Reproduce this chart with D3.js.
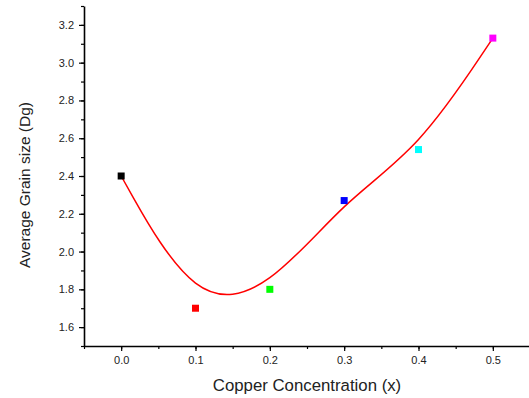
<!DOCTYPE html>
<html>
<head>
<meta charset="utf-8">
<script src="https://cdn.jsdelivr.net/npm/d3@7"></script>
<style>
  body { margin: 0; background: #fff; }
  svg { display: block; font-family: Arial, "Liberation Sans", sans-serif; }
</style>
</head>
<body>
<div id="chart"></div>
<script>
// copper concentration vs grain size
const concentration = [0.0, 0.1, 0.2, 0.3, 0.4, 0.5];
const grainSize = [2.40, 1.70, 1.80, 2.27, 2.54, 3.13];
const pointColors = ['#000000', '#ff0000', '#00ff00', '#0000ff', '#00ffff', '#ff00ff'];
const xTickValues = [0.0, 0.1, 0.2, 0.3, 0.4, 0.5];
const yTickValues = [1.6, 1.8, 2.0, 2.2, 2.4, 2.6, 2.8, 3.0, 3.2];

const width = 529, height = 398;
const margin = { top: 6, right: 0, bottom: 52, left: 84 };

const svg = d3.select('#chart').append('svg')
  .attr('width', width)
  .attr('height', height);

const x = d3.scaleLinear().domain([-0.05, 0.55]).range([margin.left, width - margin.right + 1]);
const y = d3.scaleLinear().domain([1.5, 3.3]).range([height - margin.bottom, margin.top]);

// minor ticks first
svg.append('g')
  .attr('transform', `translate(0,${height - margin.bottom})`)
  .call(d3.axisBottom(x).tickValues(d3.range(-0.05, 0.56, 0.05)).tickSize(3).tickFormat(''))
  .call(g => g.select('.domain').remove())
  .selectAll('line').attr('stroke-width', 1.2);

svg.append('g')
  .attr('transform', `translate(${margin.left},0)`)
  .call(d3.axisLeft(y).tickValues(d3.range(1.5, 3.31, 0.1)).tickSize(3).tickFormat(''))
  .call(g => g.select('.domain').remove())
  .selectAll('line').attr('stroke-width', 1.2);

// major axes
const xAxis = svg.append('g')
  .attr('transform', `translate(0,${height - margin.bottom})`)
  .call(d3.axisBottom(x).tickValues(xTickValues).tickSize(5).tickPadding(5).tickFormat(d3.format('.1f')).tickSizeOuter(0));

const yAxis = svg.append('g')
  .attr('transform', `translate(${margin.left},0)`)
  .call(d3.axisLeft(y).tickValues(yTickValues).tickSize(5).tickPadding(5).tickFormat(d3.format('.1f')).tickSizeOuter(0));

[xAxis, yAxis].forEach(a => {
  a.select('.domain').attr('stroke-width', 1.6);
  a.selectAll('.tick line').attr('stroke-width', 1.2);
  a.selectAll('text').attr('font-size', 11).attr('fill', '#222');
});

// smoothed curve
const line = d3.line()
  .x((d, i) => x(concentration[i]))
  .y(d => y(d))
  .curve(d3.curveBasis);

svg.append('path')
  .datum(grainSize)
  .attr('d', line)
  .attr('fill', 'none')
  .attr('stroke', '#ff0000')
  .attr('stroke-width', 1.5);

// markers
const size = 7;
svg.selectAll('rect.pt')
  .data(grainSize)
  .enter()
  .append('rect')
  .attr('class', 'pt')
  .attr('x', (d, i) => x(concentration[i]) - size / 2)
  .attr('y', d => y(d) - size / 2)
  .attr('width', size)
  .attr('height', size)
  .attr('fill', (d, i) => pointColors[i]);

// axis titles
svg.append('text')
  .attr('x', 307)
  .attr('y', 391)
  .attr('text-anchor', 'middle')
  .attr('font-size', 16.8)
  .attr('fill', '#222')
  .text('Copper Concentration (x)');

svg.append('text')
  .attr('transform', 'translate(30,185) rotate(-90)')
  .attr('text-anchor', 'middle')
  .attr('font-size', 15.5)
  .attr('fill', '#222')
  .text('Average Grain size (Dg)');
</script>
</body>
</html>
